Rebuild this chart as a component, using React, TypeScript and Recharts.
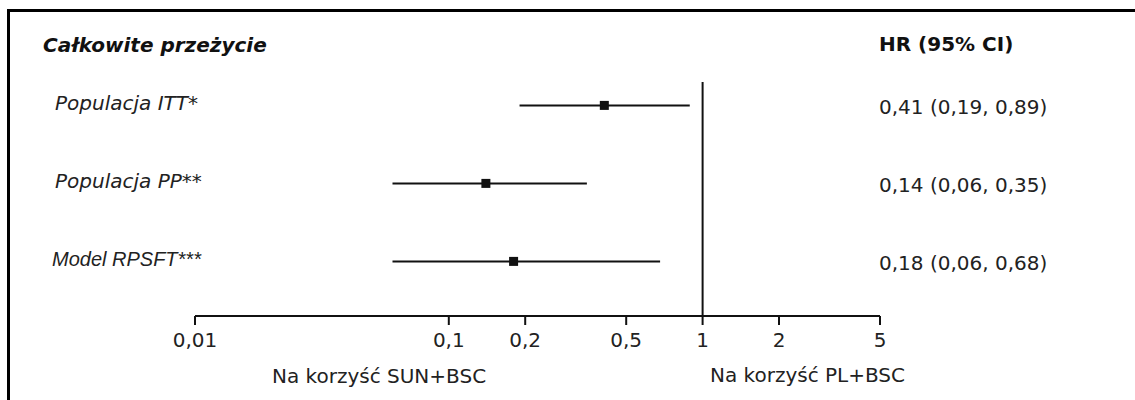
import React from 'react';
import { ScatterChart, Scatter, XAxis, YAxis, ReferenceLine } from 'recharts';

const rowLabels = ['Populacja ITT*', 'Populacja PP**', 'Model RPSFT***'];
const hrValues = [0.41, 0.14, 0.18];
const ciLower = [0.19, 0.06, 0.06];
const ciUpper = [0.89, 0.35, 0.68];
const xTicks = [0.01, 0.1, 0.2, 0.5, 1, 2, 5];

const W = 1135;
const H = 400;
const FONT = '"DejaVu Sans", Verdana, sans-serif';

const fmt = (v: number) => String(v).replace('.', ',');
const fmt2 = (v: number) => v.toFixed(2).replace('.', ',');

// row 0 sits at the top
const rowY = (i: number) => rowLabels.length - i;

const pointData = hrValues.map((v, i) => ({ x: v, y: rowY(i) }));
const ciData = rowLabels.map((_, i) => [
  { x: ciLower[i], y: rowY(i) },
  { x: ciUpper[i], y: rowY(i) },
]);

const Square = (props: any) => {
  const s = 9;
  return <rect x={props.cx - s / 2} y={props.cy - s / 2} width={s} height={s} fill="#111" />;
};

// row label on the left, HR (95% CI) text on the right
const RowTick = (props: any) => {
  const i = rowLabels.length - props.payload.value;
  const isModel = i === 2;
  return (
    <g>
      <text
        x={isModel ? 52 : 55}
        y={props.y + 5}
        fontFamily={isModel ? '"Liberation Sans", Arial, sans-serif' : FONT}
        fontStyle="italic"
        fontSize={20}
        fill="#222"
      >
        {rowLabels[i]}
      </text>
      <text x={879} y={props.y + 9} fontFamily={FONT} fontSize={20} fill="#222">
        {`${fmt2(hrValues[i])} (${fmt2(ciLower[i])}, ${fmt2(ciUpper[i])})`}
      </text>
    </g>
  );
};

export default function App() {
  return (
    <div style={{ position: 'absolute', left: 0, top: 0, width: W, height: H, overflow: 'hidden', background: '#fff' }}>
      <div
        style={{
          position: 'absolute',
          left: 7,
          top: 9,
          width: W + 50,
          height: H + 50,
          borderTop: '3px solid #000',
          borderLeft: '3px solid #000',
        }}
      />
      <div style={{ position: 'absolute', left: 0, top: 0 }}>
        <ScatterChart width={W} height={H} margin={{ top: 82, right: 255, bottom: 44, left: 45 }}>
          <XAxis
            type="number"
            dataKey="x"
            scale="log"
            domain={[0.01, 5]}
            ticks={xTicks}
            allowDataOverflow
            height={40}
            tickFormatter={fmt}
            axisLine={{ stroke: '#111', strokeWidth: 2 }}
            tickLine={{ stroke: '#111', strokeWidth: 2 }}
            tickSize={9}
            tickMargin={8}
            tick={{ fill: '#222', fontSize: 20, fontFamily: FONT }}
          />
          <YAxis
            type="number"
            dataKey="y"
            domain={[0.3, 3.3]}
            ticks={[1, 2, 3]}
            width={150}
            axisLine={false}
            tickLine={false}
            tick={<RowTick />}
          />
          <ReferenceLine x={1} stroke="#111" strokeWidth={2} />
          {ciData.map((d, i) => (
            <Scatter
              key={i}
              data={d}
              line={{ stroke: '#111', strokeWidth: 2 }}
              shape={() => <g />}
              isAnimationActive={false}
            />
          ))}
          <Scatter data={pointData} shape={<Square />} isAnimationActive={false} />
        </ScatterChart>
      </div>
      <svg width={W} height={H} style={{ position: 'absolute', left: 0, top: 0, pointerEvents: 'none' }}>
        <text x={43} y={52} fontFamily={FONT} fontWeight="bold" fontStyle="italic" fontSize={20} fill="#111">
          Całkowite przeżycie
        </text>
        <text x={879} y={51} fontFamily={FONT} fontWeight="bold" fontSize={20} fill="#111">
          HR (95% CI)
        </text>
        <text x={272} y={383} fontFamily={FONT} fontSize={20} fill="#222">
          Na korzyść SUN+BSC
        </text>
        <text x={710} y={382} fontFamily={FONT} fontSize={20} fill="#222">
          Na korzyść PL+BSC
        </text>
      </svg>
    </div>
  );
}
